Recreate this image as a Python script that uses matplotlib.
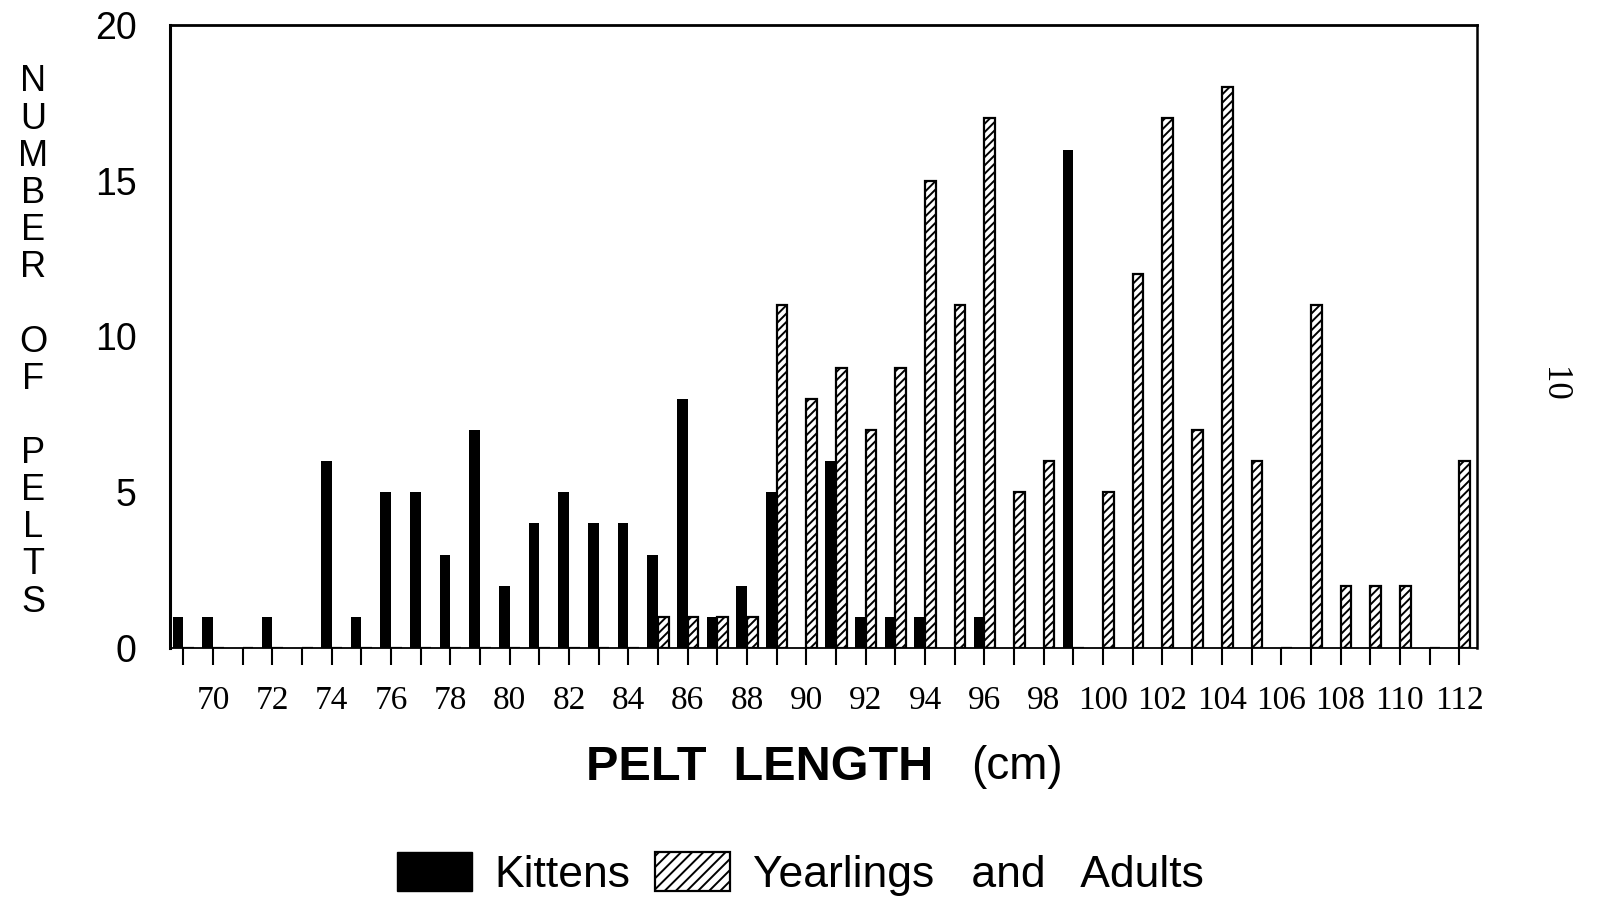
import matplotlib
matplotlib.use("Agg")
import matplotlib.pyplot as plt
from matplotlib.patches import Patch
from matplotlib import font_manager

# pelt length classes (cm) and counts
lengths = list(range(69, 113))
kittens = [1, 1, 0, 1, 0, 6, 1, 5, 5, 3, 7, 2, 4, 5, 4, 4, 3, 8, 1, 2,
           5, 0, 6, 1, 1, 1, 0, 1, 0, 0, 16,
           0, 0, 0, 0, 0, 0, 0, 0, 0, 0, 0, 0, 0]
adults = [0] * 16 + [1, 1, 1, 1, 11, 8, 9, 7, 9, 15, 11, 17, 5, 6, 0,
                     5, 12, 17, 7, 18, 6, 0, 11, 2, 2, 2, 0, 6]
tick_labels = [str(v) if v % 2 == 0 else "" for v in lengths]
yticks = [0, 5, 10, 15, 20]

names = {f.name for f in font_manager.fontManager.ttflist}
narrow = "Liberation Sans Narrow" if "Liberation Sans Narrow" in names else "Liberation Sans"

W, H = 1602, 898
fig = plt.figure(figsize=(W / 100, H / 100), dpi=100)
ax = fig.add_axes([170 / W, 1 - 648 / H, (1477 - 170) / W, (648 - 25) / H])

plt.rcParams["hatch.linewidth"] = 1.4
bw = 0.36
ax.bar(lengths, kittens, width=-bw, align="edge", color="black", linewidth=0)
ax.bar(lengths, adults, width=bw, align="edge", color="white",
       edgecolor="black", hatch="////", linewidth=1.6)

ax.set_xlim(68.55, 112.6)
ax.set_ylim(0, 20)

ax.set_xticks(lengths)
ax.set_xticklabels(tick_labels, family="Liberation Serif", fontsize=24)
ax.tick_params(axis="x", direction="out", length=12, width=1.5, pad=15)

ax.set_yticks(yticks)
ax.set_yticklabels([str(v) for v in yticks], family="Liberation Sans", fontsize=27)
ax.tick_params(axis="y", length=0, pad=24)
ax.set_yticks([20], minor=True)
ax.tick_params(axis="y", which="minor", length=12, width=2, direction="out")

ax.spines["left"].set_linewidth(2.2)
ax.spines["top"].set_linewidth(2.0)
ax.spines["right"].set_linewidth(1.8)
ax.spines["bottom"].set_linewidth(1.3)

# stacked vertical axis title
letters = "\n".join(list("NUMBER") + [""] + list("OF") + [""] + list("PELTS"))
fig.text(33 / W, 1 - 342 / H, letters, ha="center", va="center",
         family=narrow, fontsize=26, linespacing=1.08)

fig.text(933 / W, 1 - 767 / H, "PELT  LENGTH", ha="right", va="center",
         family="Liberation Sans", weight="bold", fontsize=35)
fig.text(971 / W, 1 - 767 / H, "(cm)", ha="left", va="center",
         family="Liberation Sans", fontsize=33)

fig.text(1553 / W, 1 - 384 / H, "10", rotation=270, ha="center", va="center",
         family="Liberation Serif", fontsize=25)

handles = [Patch(facecolor="black", edgecolor="black"),
           Patch(facecolor="white", edgecolor="black", hatch="///", linewidth=1.6)]
fig.legend(handles, ["Kittens", "Yearlings   and   Adults"], ncol=2, loc="center",
           bbox_to_anchor=(800 / W, 1 - 874 / H), frameon=False,
           prop={"family": "Liberation Sans", "size": 32},
           handlelength=1.7, handleheight=0.95, handletextpad=0.5, columnspacing=0.55)

fig.savefig("out.png", dpi=100)
